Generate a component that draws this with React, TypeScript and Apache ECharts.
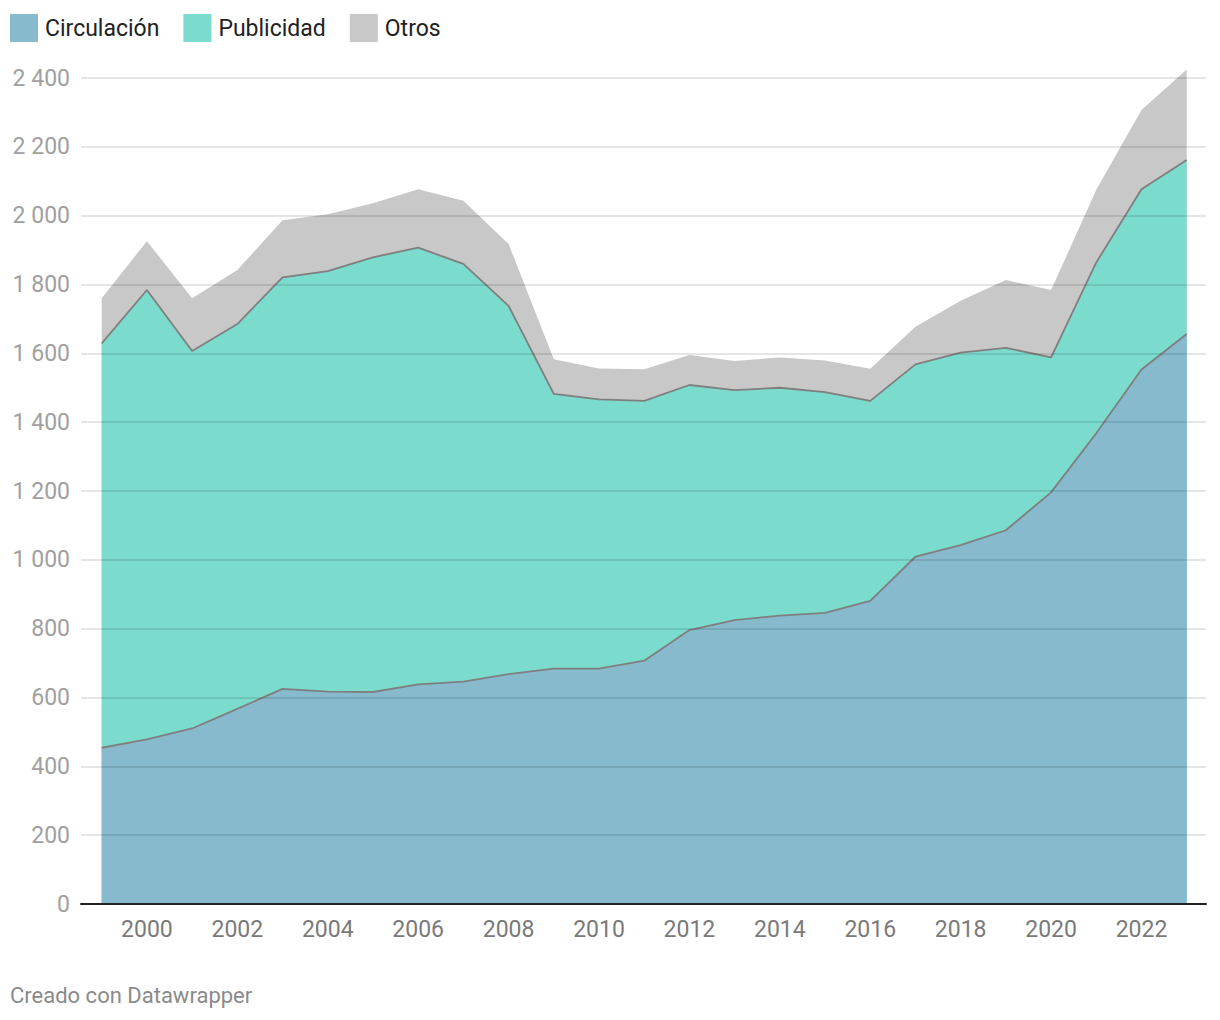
import React, { useEffect, useRef } from "react";
import * as echarts from "echarts";

const years = [1999, 2000, 2001, 2002, 2003, 2004, 2005, 2006, 2007, 2008, 2009, 2010, 2011, 2012, 2013, 2014, 2015, 2016, 2017, 2018, 2019, 2020, 2021, 2022, 2023];
const circulacion = [454, 478, 510, 567, 625, 617, 616, 638, 646, 668, 684, 684, 707, 796, 825, 838, 846, 881, 1009, 1043, 1086, 1196, 1368, 1553, 1656];
const publicidad = [1175, 1306, 1097, 1118, 1196, 1222, 1263, 1269, 1214, 1070, 798, 782, 755, 712, 668, 662, 641, 581, 559, 559, 530, 392, 496, 524, 506];
const otros = [131, 142, 153, 157, 166, 165, 157, 170, 183, 180, 101, 90, 92, 87, 85, 88, 92, 93, 109, 151, 197, 196, 211, 230, 263];
const seriesNames = ["Circulación", "Publicidad", "Otros"];
const seriesColors = ["#86bacc", "#7bdbcc", "#c8c8c8"];
const xTickYears = [2000, 2002, 2004, 2006, 2008, 2010, 2012, 2014, 2016, 2018, 2020, 2022];
const yTicks = { min: 0, max: 2400, interval: 200 };
const footer = "Creado con Datawrapper";

const FONT = "Roboto, 'Noto Sans', sans-serif";

function fmt(v: number): string {
  if (v >= 1000) {
    const th = Math.floor(v / 1000);
    const rest = String(v % 1000).padStart(3, "0");
    return th + " " + rest;
  }
  return String(v);
}

export default function App() {
  const ref = useRef<HTMLDivElement>(null);
  useEffect(() => {
    if (!ref.current) return;
    const chart = echarts.init(ref.current, undefined, { renderer: "svg" });
    const values = [circulacion, publicidad, otros];
    // cumulative (stacked) tops, computed from the layer arrays
    const cumulative = values.map((_, i) =>
      years.map((_, k) => values.slice(0, i + 1).reduce((s, arr) => s + arr[k], 0))
    );
    chart.setOption({
      animation: false,
      backgroundColor: "#ffffff",
      textStyle: { fontFamily: FONT },
      legend: {
        left: 10,
        top: 14,
        padding: 0,
        itemWidth: 28,
        itemHeight: 28,
        itemGap: 24,
        icon: "rect",
        textStyle: { fontSize: 23, color: "#222222", fontFamily: FONT, padding: [0, 0, 0, 2] },
        data: seriesNames.map((n, i) => ({ name: n, icon: "rect", itemStyle: { color: seriesColors[i], borderWidth: 0 } })),
      },
      grid: { left: 81, right: 14, top: 78, bottom: 116, containLabel: false },
      xAxis: {
        type: "value",
        min: 1998.542,
        max: 2023.427,
        z: 6,
        axisLine: { show: true, onZero: false, lineStyle: { color: "#222222", width: 2 } },
        axisTick: { show: false },
        splitLine: { show: false },
        axisLabel: {
          customValues: xTickYears,
          formatter: (v: number) => String(v),
          fontSize: 23,
          color: "#7a7a7a",
          margin: 14,
          fontFamily: FONT,
        },
      },
      yAxis: {
        type: "value",
        min: yTicks.min,
        max: yTicks.max,
        interval: yTicks.interval,
        z: 5,
        axisLine: { show: false },
        axisTick: { show: false },
        splitLine: { show: true, lineStyle: { color: "rgba(0,0,0,0.1)", width: 2 } },
        axisLabel: {
          formatter: (v: number) => fmt(v),
          fontSize: 23,
          color: "#a0a0a0",
          margin: 11,
          fontFamily: FONT,
        },
      },
      series: seriesNames.map((n, i) => ({
        name: n,
        type: "line",
        clip: false,
        showSymbol: false,
        symbol: "none",
        data: years.map((y, k) => [y, cumulative[i][k]]),
        itemStyle: { color: seriesColors[i] },
        areaStyle: { color: seriesColors[i], opacity: 1, origin: "start" },
        lineStyle: i < 2 ? { color: "#7f7f7f", width: 1.8 } : { width: 0, opacity: 0 },
        z: 4 - i,
      })),
      graphic: [
        {
          type: "text",
          left: 10,
          top: 984,
          style: { text: footer, fontSize: 22, fill: "#8a8a8a", fontFamily: FONT },
        },
      ],
    });
    return () => chart.dispose();
  }, []);
  return <div ref={ref} style={{ position: "fixed", left: 0, top: 0, width: 1220, height: 1020, background: "#fff" }} />;
}
